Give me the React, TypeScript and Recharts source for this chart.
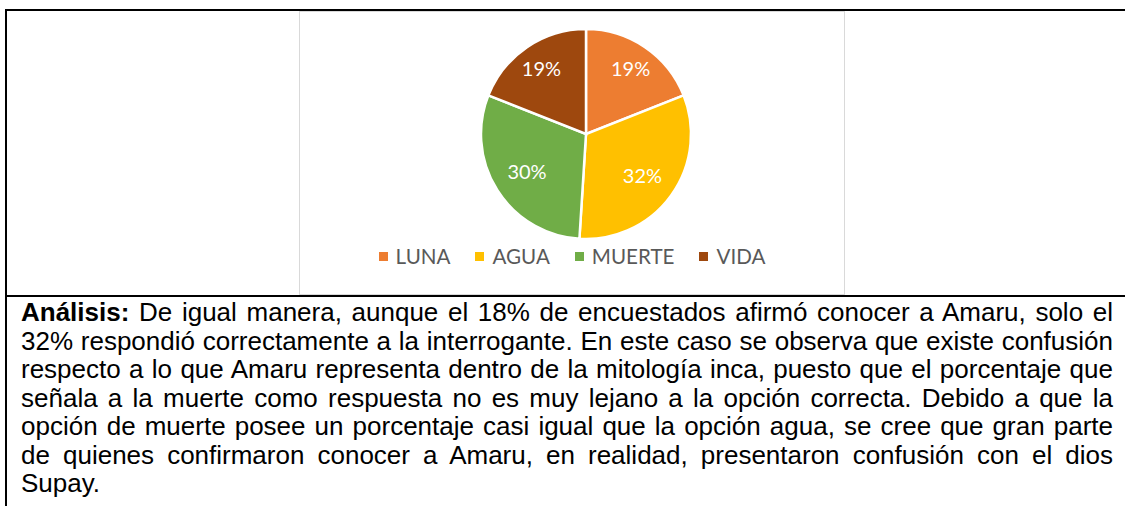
import React from 'react';
import { PieChart, Pie, Cell, Legend } from 'recharts';

const categories = ['LUNA', 'AGUA', 'MUERTE', 'VIDA'];
const percentages = [19, 32, 30, 19];
const sliceColors = ['#ED7D31', '#FFC000', '#70AD47', '#9E480E'];

const analysisLines = [
  'De igual manera, aunque el 18% de encuestados afirmó conocer a Amaru, solo el',
  '32% respondió correctamente a la interrogante. En este caso se observa que existe confusión',
  'respecto a lo que Amaru representa dentro de la mitología inca, puesto que el porcentaje que',
  'señala a la muerte como respuesta no es muy lejano a la opción correcta. Debido a que la',
  'opción de muerte posee un porcentaje casi igual que la opción agua, se cree que gran parte',
  'de quienes confirmaron conocer a Amaru, en realidad, presentaron confusión con el dios',
  'Supay.',
];
const analysisHeading = 'Análisis:';

const data = categories.map((name, i) => ({ name, value: percentages[i] }));

const RAD = Math.PI / 180;
const chartFont = 'Lato, "Open Sans", sans-serif';

const renderLabel = (props: any) => {
  const { cx, cy, midAngle, outerRadius, percent, value } = props;
  const factor = percent < 0.25 ? 0.755 : 0.665;
  const r = outerRadius * factor;
  const x = cx + r * Math.cos(-midAngle * RAD);
  const y = cy + r * Math.sin(-midAngle * RAD);
  return (
    <text
      x={x}
      y={y}
      fill="#FFFFFF"
      textAnchor="middle"
      dominantBaseline="central"
      style={{ fontFamily: chartFont, fontSize: 20 }}
    >
      {`${value}%`}
    </text>
  );
};

const renderLegend = (props: any) => {
  const payload: any[] = props.payload || [];
  const ordered = categories
    .map((c) => payload.find((p: any) => p.value === c))
    .filter(Boolean);
  return (
    <div
      style={{
        display: 'flex',
        justifyContent: 'center',
        alignItems: 'center',
        gap: 25,
        fontFamily: chartFont,
        fontSize: 20.6,
        lineHeight: '24px',
        color: '#595959',
      }}
    >
      {ordered.map((entry: any, i: number) => (
        <div key={i} style={{ display: 'flex', alignItems: 'center' }}>
          <span
            style={{
              display: 'inline-block',
              width: 9,
              height: 9,
              background: entry.color,
              marginRight: 8,
            }}
          />
          <span>{entry.value}</span>
        </div>
      ))}
    </div>
  );
};

export default function App() {
  return (
    <div
      style={{
        position: 'absolute',
        left: 0,
        top: 0,
        width: 1125,
        height: 506,
        overflow: 'hidden',
        background: '#FFFFFF',
      }}
    >
      {/* table borders */}
      <div style={{ position: 'absolute', left: 5, top: 9, width: 1120, height: 2, background: '#000' }} />
      <div style={{ position: 'absolute', left: 5, top: 9, width: 2, height: 497, background: '#000' }} />
      <div style={{ position: 'absolute', left: 5, top: 295, width: 1120, height: 2, background: '#000' }} />

      {/* chart frame */}
      <div
        style={{
          position: 'absolute',
          left: 299,
          top: 11,
          width: 546,
          height: 284,
          border: '1px solid #D9D9D9',
          boxSizing: 'border-box',
          background: '#FFFFFF',
        }}
      />
      <div style={{ position: 'absolute', left: 299, top: 11 }}>
        <PieChart width={546} height={284} margin={{ top: 0, right: 0, bottom: 0, left: 0 }}>
          <Pie
            data={data}
            dataKey="value"
            nameKey="name"
            cx={287}
            cy={123}
            outerRadius={105}
            startAngle={90}
            endAngle={-270}
            stroke="#FFFFFF"
            strokeWidth={2.5}
            label={renderLabel}
            labelLine={false}
            isAnimationActive={false}
          >
            {data.map((d, i) => (
              <Cell key={d.name} fill={sliceColors[i]} />
            ))}
          </Pie>
          <Legend
            content={renderLegend}
            wrapperStyle={{ position: 'absolute', top: 233, left: 0, width: 546 }}
          />
        </PieChart>
      </div>

      {/* analysis text */}
      <div
        style={{
          position: 'absolute',
          left: 21,
          top: 298,
          width: 1092,
          fontFamily: '"Liberation Sans", Arial, sans-serif',
          fontSize: 26,
          lineHeight: '28.5px',
          color: '#000',
        }}
      >
        {analysisLines.map((line, i) => {
          const isLast = i === analysisLines.length - 1;
          return (
            <div
              key={i}
              style={{
                textAlign: isLast ? 'left' : 'justify',
                textAlignLast: isLast ? 'left' : 'justify',
                whiteSpace: 'nowrap',
              }}
            >
              {i === 0 ? (
                <>
                  <span style={{ fontWeight: 'bold' }}>{analysisHeading}</span> {line}
                </>
              ) : (
                line
              )}
            </div>
          );
        })}
      </div>
    </div>
  );
}
